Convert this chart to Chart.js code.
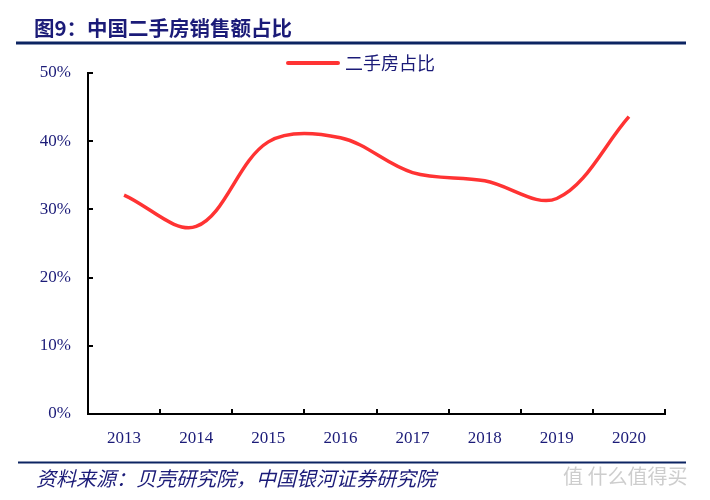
<!DOCTYPE html>
<html>
<head>
<meta charset="utf-8">
<script src="https://cdn.jsdelivr.net/npm/chart.js@4.4.1/dist/chart.umd.min.js"></script>
<style>
    html, body { margin: 0; padding: 0; background: #fff; }
    #chart { display: block; }
</style>
</head>
<body>
<canvas id="chart" width="710" height="500"></canvas>
<script>
"use strict";

// Chart data
var years = ['2013', '2014', '2015', '2016', '2017', '2018', '2019', '2020'];
var shareValues = [32.1, 27.5, 39.9, 40.5, 35.4, 34.2, 31.6, 43.6];
var yTickValues = [0, 10, 20, 30, 40, 50];
var seriesName = '二手房占比';
var titleText = '图9：中国二手房销售额占比';
var sourceText = '资料来源：贝壳研究院，中国银河证券研究院';

var NAVY = '#1b1b78';
var RULE = '#0c2462';
var cjk = '"Noto Sans CJK SC", sans-serif';

// Title, rules, inward ticks, legend and source line
var decorations = {
    id: 'decorations',
    afterDraw: function (chart) {
        var ctx = chart.ctx;
        var xs = chart.scales.x;
        var ys = chart.scales.y;
        ctx.save();

        // title
        ctx.fillStyle = NAVY;
        ctx.font = 'bold 20.5px ' + cjk;
        ctx.textBaseline = 'middle';
        ctx.textAlign = 'left';
        ctx.fillText(titleText, 34, 28);

        // rules
        ctx.fillStyle = RULE;
        ctx.fillRect(16, 41.5, 670, 3);
        ctx.fillRect(18, 461.5, 668, 2);

        // inward ticks
        ctx.strokeStyle = '#000';
        ctx.lineWidth = 2;
        ctx.beginPath();
        yTickValues.forEach(function (v) {
            var y = Math.round(ys.getPixelForValue(v));
            ctx.moveTo(xs.left, y);
            ctx.lineTo(xs.left + 5, y);
        });
        var step = xs.getPixelForValue(1) - xs.getPixelForValue(0);
        for (var i = 0; i <= years.length; i++) {
            var x = Math.round(xs.getPixelForValue(i) - step / 2);
            ctx.moveTo(x, ys.bottom);
            ctx.lineTo(x, ys.bottom - 5);
        }
        ctx.stroke();

        // legend
        var ds = chart.data.datasets[0];
        ctx.strokeStyle = ds.borderColor;
        ctx.lineWidth = 4;
        ctx.lineCap = 'round';
        ctx.beginPath();
        ctx.moveTo(288, 63);
        ctx.lineTo(338, 63);
        ctx.stroke();
        ctx.fillStyle = NAVY;
        ctx.font = '18px ' + cjk;
        ctx.fillText(ds.label, 345, 63);

        // source
        ctx.font = 'italic 20px ' + cjk;
        ctx.fillStyle = NAVY;
        ctx.fillText(sourceText, 36, 478);

        // watermark
        ctx.font = '20px ' + cjk;
        ctx.fillStyle = 'rgba(200,200,200,0.9)';
        ctx.fillText('值 什么值得买', 563, 476);

        ctx.restore();
    }
};

var config = {
    type: 'line',
    data: {
        labels: years,
        datasets: [{
            label: seriesName,
            data: shareValues,
            borderColor: '#ff3333',
            borderWidth: 3.5,
            tension: 0.35,
            pointRadius: 0,
            fill: false,
        }],
    },
    options: {
        responsive: false,
        animation: false,
        layout: {
            padding: { left: 0, top: 73, right: 45, bottom: 0 }
        },
        scales: {
            x: {
                offset: true,
                grid: { display: false, drawTicks: false },
                border: { display: true, color: '#000', width: 2 },
                ticks: {
                    color: NAVY,
                    padding: 14,
                    font: { family: '"Liberation Serif", serif', size: 17 }
                },
                afterFit: function (scale) { scale.height = 86; }
            },
            y: {
                min: 0,
                max: 50,
                grid: { display: false, drawTicks: false },
                border: { display: true, color: '#000', width: 2 },
                ticks: {
                    stepSize: 10,
                    color: NAVY,
                    padding: 17,
                    font: { family: '"Liberation Serif", serif', size: 17 },
                    callback: function (value) { return value + '%'; }
                },
                afterFit: function (scale) { scale.width = 88; }
            }
        },
        plugins: {
            legend: { display: false },
            tooltip: { enabled: false }
        }
    },
    plugins: [decorations]
};

new Chart(document.getElementById('chart').getContext('2d'), config);
</script>
</body>
</html>
